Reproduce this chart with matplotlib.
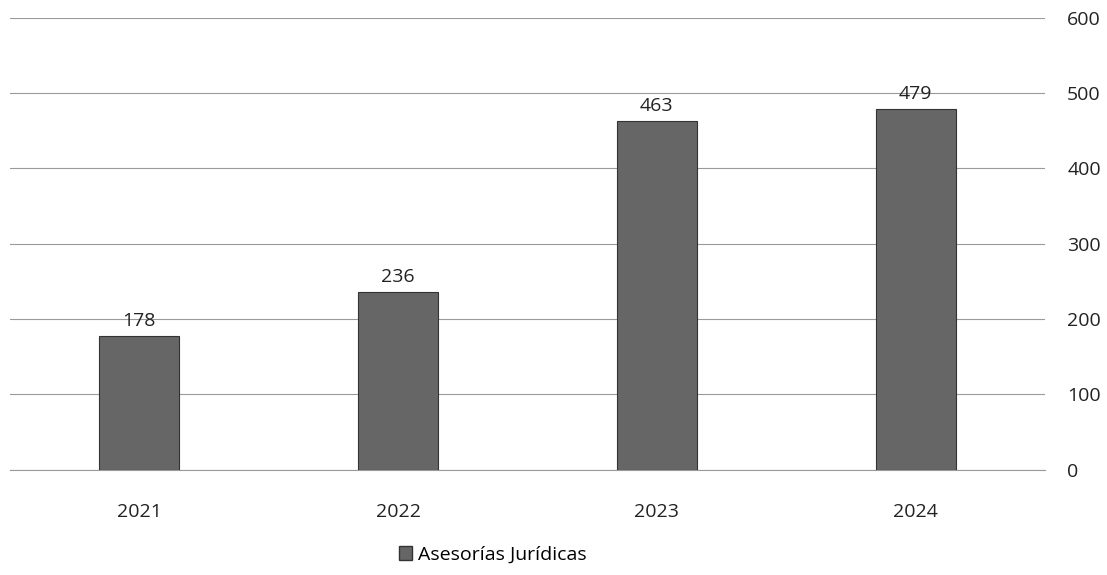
import matplotlib.pyplot as plt
from matplotlib.patches import Patch

# Data
years = ['2021', '2022', '2023', '2024']
asesorias = [178, 236, 463, 479]
y_ticks = [0, 100, 200, 300, 400, 500, 600]

plt.rcParams['font.family'] = ['Open Sans', 'DejaVu Sans']

fig = plt.figure(figsize=(11.07, 5.75), dpi=100)
ax = fig.add_axes([0.009, 0.183, 0.935, 0.786])

x = range(len(years))
bars = ax.bar(x, asesorias, width=0.31, color='#666666', edgecolor='#333333',
              linewidth=0.8, zorder=3)

for b, v in zip(bars, asesorias):
    ax.annotate(str(v), (b.get_x() + b.get_width() / 2, v), xytext=(0, 4),
                textcoords='offset points', ha='center', va='bottom',
                fontsize=14, color='#222222')

ax.set_xlim(-0.5, 3.5)
ax.set_ylim(0, 600)
ax.set_yticks(y_ticks)
ax.yaxis.tick_right()
ax.tick_params(axis='y', length=0, pad=16, labelsize=14, labelcolor='#222222')
ax.tick_params(axis='x', length=0, pad=24, labelsize=14, labelcolor='#222222')
ax.set_xticks(list(x))
ax.set_xticklabels(years)
ax.grid(axis='y', color='#9a9a9a', linewidth=0.8, zorder=0)
for s in ['top', 'left', 'right']:
    ax.spines[s].set_visible(False)
ax.spines['bottom'].set_color('#9a9a9a')

fig.legend(handles=[Patch(facecolor='#666666', edgecolor='#333333')],
           labels=['Asesorías Jurídicas'], loc='center', bbox_to_anchor=(0.445, 0.035),
           frameon=False, fontsize=14, handlelength=0.7, handleheight=0.7,
           handletextpad=0.3)

fig.savefig('out.png', dpi=100)
